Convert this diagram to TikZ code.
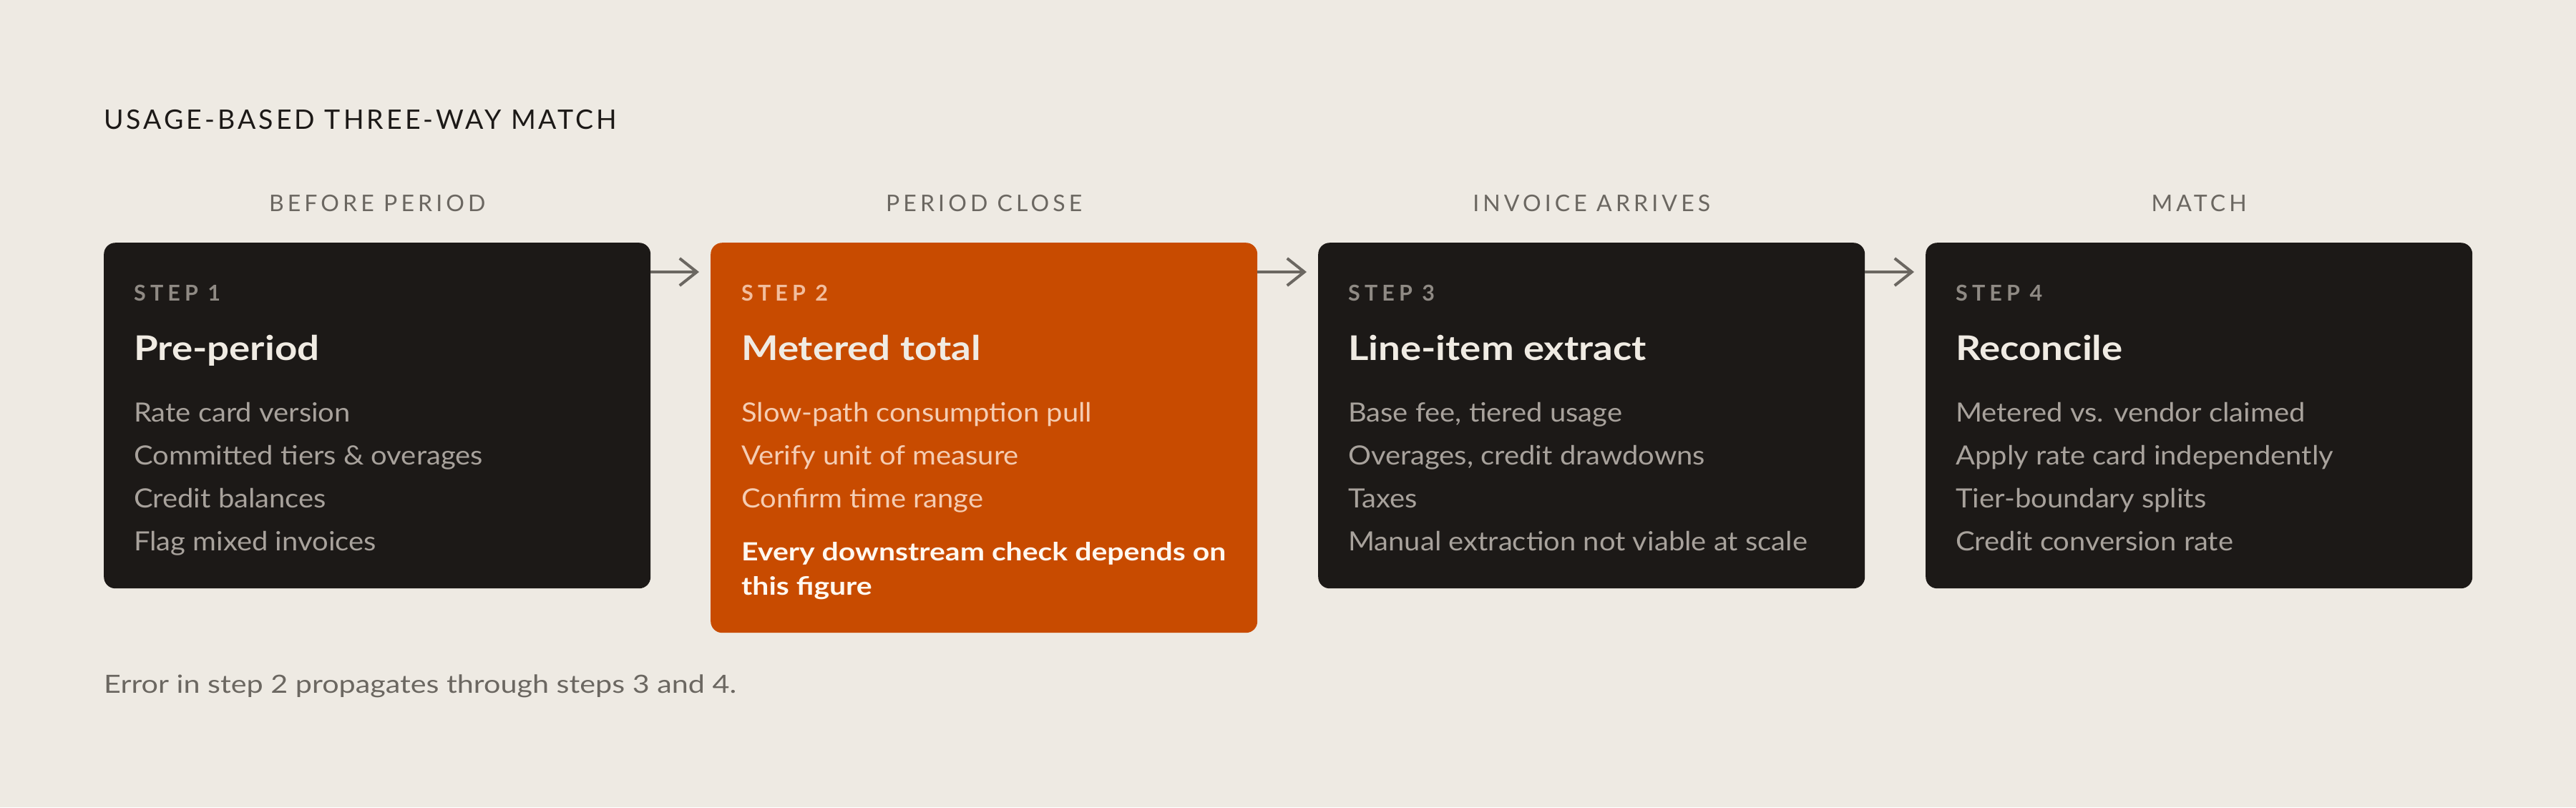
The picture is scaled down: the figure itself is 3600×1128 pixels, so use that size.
\documentclass[tikz,border=0pt]{standalone}
\usepackage{fontspec}
\setmainfont{Lato}
\newfontfamily\trkfont[LetterSpace=10.7]{Lato}
\newfontfamily\hdrfont[LetterSpace=16]{Lato}
\newfontfamily\trkwide[LetterSpace=20]{Lato}
\newfontfamily\itemfont[FakeStretch=1.08]{Lato}
\newfontfamily\footfont[FakeStretch=1.18]{Lato}
\newfontfamily\titlefont[FakeStretch=1.15]{Lato}
\newfontfamily\notefont[FakeStretch=1.17]{Lato}
\usetikzlibrary{arrows.meta}
\definecolor{bg}{HTML}{EEEAE3}
\definecolor{dark}{HTML}{1C1917}
\definecolor{orng}{HTML}{C84B00}
\definecolor{muted}{HTML}{6B6761}
\definecolor{steplbl}{HTML}{8F8A84}
\definecolor{itemgray}{HTML}{A8A29C}
\definecolor{cream}{HTML}{F0EBE3}
\definecolor{peach}{HTML}{F2BE9E}
\definecolor{peachitem}{HTML}{F5CDB3}
\definecolor{notewhite}{HTML}{FFF8F0}
\tikzset{
  txt/.style={inner sep=0pt, anchor=base west},
  card/.style={anchor=north west, inner sep=0pt, minimum width=764pt, rounded corners=16pt},
  darkcard/.style={card, fill=dark, minimum height=483pt},
  orngcard/.style={card, fill=orng, minimum height=545pt},
  maintitle/.style={txt, text=dark, font=\trkfont\fontsize{37.5}{40}\selectfont},
  colhdr/.style={inner sep=0pt, anchor=base, text=muted, font=\hdrfont\fontsize{32}{36}\selectfont},
  stepname/.style={txt, text=steplbl, font=\trkwide\bfseries\fontsize{30.5}{34}\selectfont},
  cardtitle/.style={txt, text=cream, font=\titlefont\bfseries\fontsize{47.5}{52}\selectfont},
  item/.style={txt, text=itemgray, font=\itemfont\fontsize{37}{40}\selectfont},
  note/.style={txt, text=notewhite, font=\notefont\bfseries\fontsize{35}{40}\selectfont},
  foot/.style={txt, text=muted, font=\footfont\fontsize{35}{40}\selectfont},
  flow/.style={draw=muted, line width=4pt, -{Straight Barb[length=24pt, width=38pt]}, shorten >=16pt}
}
\begin{document}
\begin{tikzpicture}[x=1pt, y=-1pt]
\useasboundingbox[fill=bg] (0,0) rectangle (3600,1128);

\node[maintitle] (title) at (145,180) {USAGE-BASED THREE-WAY MATCH};

% cards
\node[darkcard] (b1) at (145,339) {};
\node[orngcard] (b2) at (993,339) {};
\node[darkcard] (b3) at (1842,339) {};
\node[darkcard] (b4) at (2691,339) {};

% column headers
\node[colhdr] (h1) at (b1.center |- 0,295) {BEFORE PERIOD};
\node[colhdr] (h2) at (b2.center |- 0,295) {PERIOD CLOSE};
\node[colhdr] (h3) at (b3.center |- 0,295) {INVOICE ARRIVES};
\node[colhdr] (h4) at (b4.center |- 0,295) {MATCH};

% arrows
\draw[flow] (b1.east |- 0,380) -- (b2.west |- 0,380);
\draw[flow] (b2.east |- 0,380) -- (b3.west |- 0,380);
\draw[flow] (b3.east |- 0,380) -- (b4.west |- 0,380);

% card 1
\node[stepname] (s1) at (187,420) {STEP 1};
\node[cardtitle] (t1) at (187,503) {Pre-period};
\node[item] (i11) at (187,589) {Rate card version};
\node[item] (i12) at (187,649) {Committed tiers \& overages};
\node[item] (i13) at (187,709) {Credit balances};
\node[item] (i14) at (187,769) {Flag mixed invoices};

% card 2
\node[stepname, text=peach] (s2) at (1036,420) {STEP 2};
\node[cardtitle] (t2) at (1036,503) {Metered total};
\node[item, text=peachitem] (i21) at (1036,589) {Slow-path consumption pull};
\node[item, text=peachitem] (i22) at (1036,649) {Verify unit of measure};
\node[item, text=peachitem] (i23) at (1036,709) {Confirm time range};
\node[note] (n21) at (1036,783) {Every downstream check depends on};
\node[note] (n22) at (1036,831) {this figure};

% card 3
\node[stepname] (s3) at (1884,420) {STEP 3};
\node[cardtitle] (t3) at (1884,503) {Line-item extract};
\node[item] (i31) at (1884,589) {Base fee, tiered usage};
\node[item] (i32) at (1884,649) {Overages, credit drawdowns};
\node[item] (i33) at (1884,709) {Taxes};
\node[item] (i34) at (1884,769) {Manual extraction not viable at scale};

% card 4
\node[stepname] (s4) at (2733,420) {STEP 4};
\node[cardtitle] (t4) at (2733,503) {Reconcile};
\node[item] (i41) at (2733,589) {Metered vs. vendor claimed};
\node[item] (i42) at (2733,649) {Apply rate card independently};
\node[item] (i43) at (2733,709) {Tier-boundary splits};
\node[item] (i44) at (2733,769) {Credit conversion rate};

\node[foot] (foot) at (145,968) {Error in step 2 propagates through steps 3 and 4.};
\end{tikzpicture}
\end{document}
